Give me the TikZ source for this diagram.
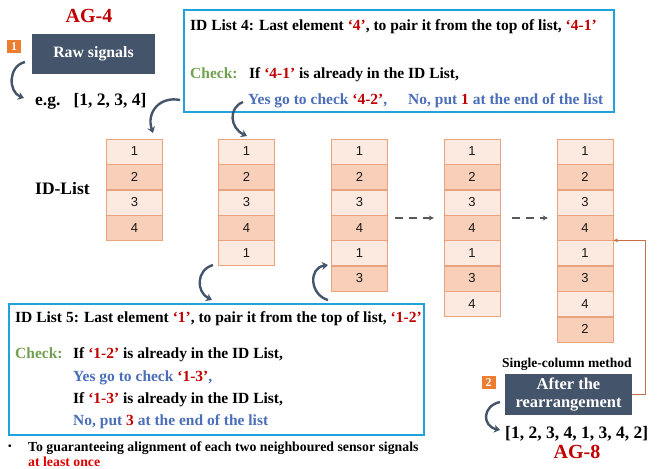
\documentclass[tikz,border=0pt]{standalone}
\usepackage{fontspec}
\setmainfont{Liberation Serif}
\newfontfamily\numfont{Liberation Sans}
\usepackage{xcolor}
\usepackage{tikz}
\usetikzlibrary{positioning,arrows.meta}
\definecolor{slate}{HTML}{44546A}
\definecolor{boxblue}{HTML}{1FA2DD}
\definecolor{darkred}{HTML}{C00000}
\definecolor{brightred}{HTML}{E00000}
\definecolor{checkgreen}{HTML}{70A050}
\definecolor{yesblue}{HTML}{4A6EB8}
\definecolor{cellborder}{HTML}{EBA37E}
\definecolor{celllight}{HTML}{FCEAE0}
\definecolor{celldark}{HTML}{F8CFB9}
\definecolor{tagorange}{HTML}{ED7D31}
\definecolor{linkorange}{HTML}{C8704A}
\definecolor{dashgray}{HTML}{595959}
\tikzstyle{cellA}=[draw=cellborder,fill=celllight,minimum width=56pt,minimum height=25pt,inner sep=0pt,text=black!90,font=\numfont\fontsize{13}{13}\selectfont]
\tikzstyle{cellB}=[cellA,fill=celldark]
\tikzstyle{txt}=[inner sep=0pt,anchor=base west,font=\bfseries\fontsize{15.5}{17}\selectfont]
\tikzstyle{listbox}=[draw=boxblue,line width=1.5pt,anchor=north west,inner sep=0pt]
\tikzstyle{darkbox}=[fill=slate,text=white,inner sep=0pt,align=center]
\tikzstyle{tag}=[fill=tagorange,text=white,minimum width=14pt,minimum height=13pt,inner sep=0pt,font=\bfseries\fontsize{12}{12}\selectfont]
\tikzstyle{title}=[text=darkred,inner sep=0pt,font=\bfseries\fontsize{20}{20}\selectfont]
\tikzstyle{curl}=[draw=slate,line width=2.4pt,-{Stealth[length=6pt,width=8pt]}]
\tikzstyle{dasharrow}=[draw=dashgray,line width=1.3pt,dash pattern=on 8pt off 6pt,-{Stealth[length=5pt,width=5pt]}]
\tikzstyle{link}=[draw=linkorange,line width=1pt,-{Stealth[length=5pt,width=4pt]}]

\begin{document}
\begin{tikzpicture}[x=1pt,y=-1pt]
\useasboundingbox (0,0) rectangle (657,469);

\node[title] (ag4) at (89,16) {AG-4};
\node[tag] (tag1) at (14,46.5) {1};
\node[darkbox,minimum width=123pt,minimum height=40pt,font=\bfseries\fontsize{15.8}{16}\selectfont] (raw) at (93.5,54) {Raw signals};
\node[txt,font=\bfseries\fontsize{17.5}{17}\selectfont] (eg) at (35,105) {e.g.\ \ \ [1, 2, 3, 4]};
\node[txt,font=\bfseries\fontsize{17.5}{17}\selectfont] (idlist) at (35,194) {ID-List};

\node[listbox,minimum width=430pt,minimum height=102pt] (id4box) at (183,9) {};
\node[txt] (id4a) at (190,30) {ID List 4: Last element \textcolor{darkred}{‘4’}, to pair it from the top of list, \textcolor{darkred}{‘4-1’}};
\node[txt,text=checkgreen] (id4b) at (190,78) {Check:};
\node[txt] (id4c) at (249,78) {If \textcolor{darkred}{‘4-1’} is already in the ID List,};
\node[txt,text=yesblue] (id4d) at (248,104) {Yes go to check \textcolor{darkred}{‘4-2’},};
\node[txt,text=yesblue] (id4e) at (408,104) {No, put \textcolor{darkred}{1} at the end of the list};

\node[cellA] (a1) at (134.5,151.5) {1};
\node[cellB,below=0pt of a1] (a2) {2};
\node[cellA,below=0pt of a2] (a3) {3};
\node[cellB,below=0pt of a3] (a4) {4};

\node[cellA] (b1) at (246.5,151.5) {1};
\node[cellB,below=0pt of b1] (b2) {2};
\node[cellA,below=0pt of b2] (b3) {3};
\node[cellB,below=0pt of b3] (b4) {4};
\node[cellA,below=0pt of b4] (b5) {1};

\node[cellA] (c1) at (359.5,151.5) {1};
\node[cellB,below=0pt of c1] (c2) {2};
\node[cellA,below=0pt of c2] (c3) {3};
\node[cellB,below=0pt of c3] (c4) {4};
\node[cellA,below=0pt of c4] (c5) {1};
\node[cellB,below=0pt of c5] (c6) {3};

\node[cellA] (d1) at (472,151.5) {1};
\node[cellB,below=0pt of d1] (d2) {2};
\node[cellA,below=0pt of d2] (d3) {3};
\node[cellB,below=0pt of d3] (d4) {4};
\node[cellA,below=0pt of d4] (d5) {1};
\node[cellB,below=0pt of d5] (d6) {3};
\node[cellA,below=0pt of d6] (d7) {4};

\node[cellA] (e1) at (585,151.5) {1};
\node[cellB,below=0pt of e1] (e2) {2};
\node[cellA,below=0pt of e2] (e3) {3};
\node[cellB,below=0pt of e3] (e4) {4};
\node[cellA,below=0pt of e4] (e5) {1};
\node[cellB,below=0pt of e5] (e6) {3};
\node[cellA,below=0pt of e6] (e7) {4};
\node[cellB,below=0pt of e7] (e8) {2};

\node[listbox,minimum width=415pt,minimum height=131pt] (id5box) at (8,303) {};
\node[txt] (id5a) at (15,322) {ID List 5: Last element \textcolor{darkred}{‘1’}, to pair it from the top of list, \textcolor{darkred}{‘1-2’}};
\node[txt,text=checkgreen] (id5b) at (15,358) {Check:};
\node[txt] (id5c) at (73,358) {If \textcolor{darkred}{‘1-2’} is already in the ID List,};
\node[txt,text=yesblue] (id5d) at (73,381) {Yes go to check \textcolor{darkred}{‘1-3’},};
\node[txt] (id5e) at (73,403) {If \textcolor{darkred}{‘1-3’} is already in the ID List,};
\node[txt,text=yesblue] (id5f) at (73,425) {No, put \textcolor{darkred}{3} at the end of the list};

\node[txt,font=\bfseries\fontsize{10}{10}\selectfont] (dot) at (8,449) {•};
\node[txt,font=\bfseries\fontsize{13.8}{14}\selectfont] (note1) at (28,451) {To guaranteeing alignment of each two neighboured sensor signals};
\node[txt,text=brightred,font=\bfseries\fontsize{13.8}{14}\selectfont] (note2) at (28,466) {at least once};

\node[txt,font=\bfseries\fontsize{13.5}{14}\selectfont] (single) at (502,367) {Single-column method};
\node[tag] (tag2) at (488.5,382.5) {2};
\node[darkbox,minimum width=127pt,minimum height=41pt,font=\bfseries\fontsize{16.5}{18}\selectfont] (after) at (568.5,394.5) {After the\\rearrangement};
\node[txt,font=\bfseries\fontsize{17.5}{17}\selectfont] (result) at (505,438) {[1, 2, 3, 4, 1, 3, 4, 2]};
\node[title] (ag8) at (577,452) {AG-8};

\coordinate (raw-out) at (25,62);
\coordinate (eg-in) at (24,98);
\coordinate (id4-out) at (180,100);
\coordinate (a-in) at (153,133);
\coordinate (yes-out) at (243,102);
\coordinate (b-in) at (247,136);
\coordinate (b-out) at (213,265);
\coordinate (id5-in) at (212,300);
\coordinate (id5-out) at (328,300);
\coordinate (c-in) at (328,265);
\coordinate (after-out) at (500,402);
\coordinate (result-in) at (500,430);

\draw[curl] (raw-out) .. controls (8,66) and (8,92) .. (eg-in);
\draw[curl] (id4-out) .. controls (160,96) and (146,112) .. (a-in);
\draw[curl] (yes-out) .. controls (228,108) and (230,128) .. (b-in);
\draw[curl] (b-out) .. controls (196,270) and (196,292) .. (id5-in);
\draw[curl] (id5-out) .. controls (310,295) and (308,268) .. (c-in);
\draw[curl] (after-out) .. controls (482,406) and (482,426) .. (result-in);

\draw[dasharrow] ([shift={(7,3)}]c4.north east) -- ([shift={(-10,3)}]d4.north west);
\draw[dasharrow] ([shift={(12,3)}]d4.north east) -- ([shift={(-9,3)}]e4.north west);
\draw[link] (after.east) -- ++(13,0) |- (e5.north east);
\end{tikzpicture}
\end{document}
